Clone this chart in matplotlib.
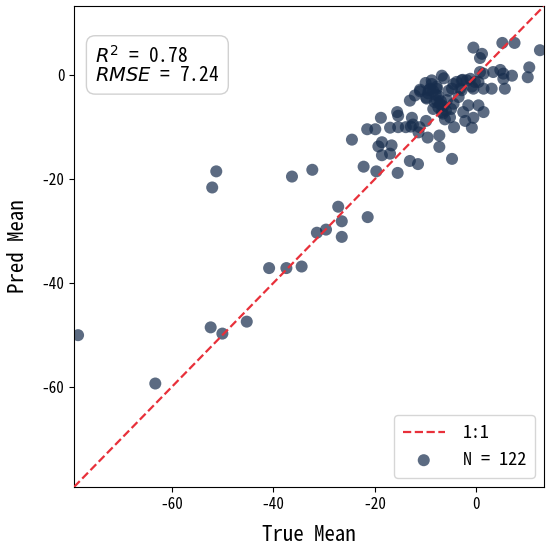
import matplotlib
matplotlib.use("Agg")
import matplotlib.pyplot as plt
import numpy as np

plt.rcParams['font.family'] = ['Noto Sans Mono CJK SC', 'DejaVu Sans Mono', 'DejaVu Sans']
plt.rcParams['axes.unicode_minus'] = False

true_mean = [
    -78.4, -63.2, -52.3, -50.0, -45.2, -40.8, -37.4, -34.4, -31.4, -29.6,
    -27.2, -26.5, -26.5, -21.4, -51.2, -52.0, -36.3, -32.3, -24.5, -22.2,
    -19.7, -15.5, -13.1, -11.5, -4.8,
    -0.6, 1.1, 0.7, 5.1, 7.5, 10.4, 10.1, 12.5,
    -21.5, -19.9, -18.8, -19.3, -18.6, -16.7, -18.6, -17.0, -17.0, -15.4,
    -15.6, -15.4, -13.9, -12.7, -12.5, -11.2, -9.9, -11.4, -9.6, -7.3,
    -7.3, -13.1, -12.1, -11.1, -9.4, -8.8, -6.8, -7.8, -9.8, -8.5,
    -7.2, -6.8,
    -6.4, -4.5, -2.7, -1.2, -3.2, -0.6, 1.4, 3.3, 5.3, 7.0,
    5.6, 3.0, 1.4, 0.4, -1.6, 0.4, 1.4, -2.6, -0.6, -2.2,
    -0.9, -4.4, -4.5,
    -8.8, -11.1, -9.9, -9.1, -7.8, -7.8, -7.5, -6.6, -5.2, -3.9,
    -2.9, -1.9, -0.9, -4.8, -3.5, -2.9, 0.7, 4.7, 5.3, -0.3,
    -12.9,
    -10.0, -9.5, -8.5, -8.0, -7.5, -8.2, -7.0, -6.5, -6.0, -5.8,
    -5.0, -6.2, -5.5,
]
pred_mean = [
    -50.0, -59.3, -48.5, -49.7, -47.4, -37.1, -37.1, -36.8, -30.3, -29.7,
    -25.3, -28.1, -31.1, -27.3, -18.5, -21.6, -19.5, -18.2, -12.4, -17.6,
    -18.5, -18.8, -16.5, -17.1, -16.1,
    5.3, 4.1, 3.3, 6.2, 6.2, 1.5, -0.4, 4.8,
    -10.4, -10.4, -8.2, -13.7, -12.9, -13.5, -15.4, -15.1, -10.1, -10.0,
    -7.1, -7.8, -10.0, -8.2, -9.5, -10.0, -8.8, -11.0, -12.0, -11.6,
    -13.8, -4.9, -3.9, -3.1, -2.9, -1.7, -0.1, -2.6, -4.5, -6.5,
    -5.5, -7.1,
    -0.6, -1.7, -0.9, -0.7, -2.6, -2.6, 0.3, 0.6, 0.3, -0.1,
    -2.6, -2.6, -2.6, -1.3, -5.8, -5.8, -7.1, -7.1, -8.2, -8.8,
    -10.1, -10.0, -5.5,
    -1.0, -2.8, -4.3, -2.6, -2.2, -4.9, -6.2, -7.4, -8.1, -1.3,
    -1.0, -1.0, -2.2, -2.6, -4.2, -2.9, 0.6, 1.0, -0.7, -1.3,
    -9.9,
    -1.5, -3.5, -3.0, -3.8, -4.0, -5.2, -5.0, -6.0, -6.8, -4.8,
    -6.5, -8.5, -3.0,
]
axis_limits = [-79.2, 13.3]
r2_text = "$R^2$ = 0.78"
rmse_text = "$RMSE$ = 7.24"
n_label = "N = %d" % len(true_mean)

fig = plt.figure(figsize=(5.5, 5.47), dpi=100)
ax = fig.add_axes([74/550, 1-487/547, (544-74)/550, (487-6)/547])

ax.plot(axis_limits, axis_limits, ls='--', color='#e8303a', lw=1.6, label='1:1', zorder=3)
ax.scatter(true_mean, pred_mean, s=75, color='#172d4d', alpha=0.7,
           edgecolors='none', label=n_label, zorder=2)

ax.set_xlim(axis_limits)
ax.set_ylim(axis_limits)
ax.set_xticks([-60, -40, -20, 0])
ax.set_yticks([-60, -40, -20, 0])
ax.tick_params(labelsize=11)
ax.set_xlabel('True Mean', fontsize=15, labelpad=9)
ax.set_ylabel('Pred Mean', fontsize=15, labelpad=9)

ax.text(0.045, 0.92, r2_text + "\n" + rmse_text, transform=ax.transAxes,
        fontsize=14, va='top', ha='left', linespacing=1.0,
        bbox=dict(boxstyle='round,pad=0.45', facecolor='white',
                  edgecolor='#cccccc', alpha=0.9))

leg = ax.legend(loc='lower right', fontsize=13, frameon=True, borderpad=0.5,
                handlelength=2.3, handletextpad=1.0)
leg.get_frame().set_edgecolor('#cccccc')

fig.savefig('out.png', dpi=100)
